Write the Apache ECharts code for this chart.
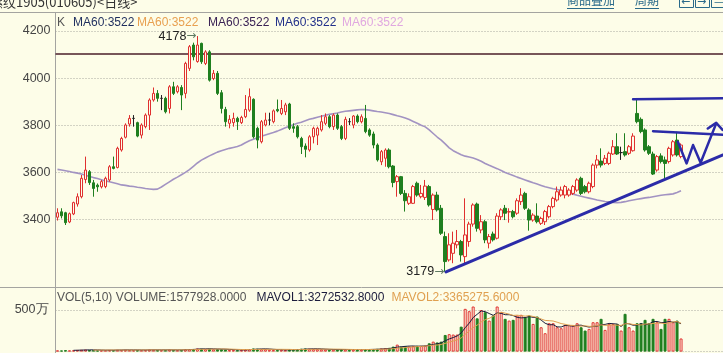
<!DOCTYPE html>
<html><head><meta charset="utf-8">
<script src="https://cdn.jsdelivr.net/npm/echarts@6/dist/echarts.min.js"></script>
<style>html,body{margin:0;padding:0;background:#fdfde8;overflow:hidden}#c{width:723px;height:353px}</style>
</head><body><div id="c"></div>
<script>
// ---------- data ----------
const SLOTS = 167; // candle slots across the plot (157 used, rest empty space on the right)
const days = Array.from({length: SLOTS}, (_, i) => 'D' + (i + 1));

// [open, close, low, high]
const candles = [
[3410,3429,3396,3448],[3433,3416,3405,3448],[3429,3387,3377,3433],[3390,3425,3385,3430],[3424,3472,3419,3476],
[3466,3497,3455,3511],[3497,3575,3490,3589],[3570,3610,3554,3667],[3603,3557,3547,3610],[3556,3532,3497,3568],
[3546,3539,3518,3553],[3539,3561,3532,3568],[3540,3575,3533,3582],[3568,3624,3561,3631],[3624,3617,3613,3667],
[3621,3702,3617,3709],[3695,3744,3688,3751],[3749,3801,3744,3808],[3805,3829,3794,3843],[3829,3829,3794,3843],
[3811,3754,3749,3815],[3758,3801,3744,3808],[3794,3843,3787,3850],[3843,3907,3780,3914],[3907,3935,3900,3960],
[3935,3914,3900,3949],[3914,3914,3864,3928],[3914,3857,3850,3921],[3871,3963,3850,3970],[3963,3935,3928,3984],
[3942,3963,3935,3970],[3960,3928,3864,3970],[3935,4062,3914,4069],[4041,4133,4030,4140],[4140,4090,4075,4150],
[4070,4140,4065,4178],[4147,4069,4060,4150],[4062,4111,4055,4118],[4111,3991,3985,4118],[3998,4020,3991,4034],
[4020,3935,3928,4030],[3938,3871,3850,3949],[3867,3815,3794,3878],[3808,3825,3787,3843],[3811,3829,3794,3853],
[3829,3815,3780,3836],[3811,3833,3805,3840],[3836,3867,3830,3928],[3864,3921,3857,3956],[3910,3751,3744,3914],
[3787,3737,3702,3794],[3730,3815,3723,3822],[3801,3822,3795,3853],[3822,3822,3800,3853],[3815,3861,3808,3867],
[3867,3861,3855,3909],[3850,3871,3843,3907],[3857,3886,3843,3895],[3890,3787,3780,3895],[3794,3787,3768,3808],
[3794,3751,3744,3801],[3744,3709,3678,3751],[3712,3698,3664,3723],[3695,3751,3688,3758],[3751,3787,3723,3794],
[3758,3787,3716,3794],[3780,3815,3773,3843],[3808,3836,3801,3850],[3836,3794,3787,3843],[3794,3843,3780,3850],
[3843,3787,3780,3850],[3794,3744,3737,3801],[3744,3825,3737,3836],[3815,3815,3801,3830],[3801,3839,3787,3843],
[3839,3815,3808,3846],[3815,3836,3808,3846],[3829,3773,3766,3886],[3780,3758,3751,3787],[3763,3716,3702,3773],
[3716,3653,3646,3723],[3645,3688,3631,3695],[3660,3695,3624,3702],[3695,3624,3617,3702],[3627,3557,3537,3631],
[3561,3582,3497,3589],[3582,3511,3504,3585],[3511,3480,3434,3525],[3469,3497,3462,3511],[3469,3540,3466,3547],
[3554,3504,3497,3561],[3497,3511,3490,3547],[3494,3542,3483,3568],[3540,3462,3455,3547],[3443,3504,3398,3511],
[3504,3441,3434,3518],[3448,3342,3335,3462],[3328,3222,3179,3349],[3229,3293,3222,3342],[3257,3300,3215,3349],
[3293,3307,3278,3356],[3307,3250,3222,3314],[3243,3335,3208,3490],[3307,3381,3285,3391],[3381,3462,3370,3469],
[3466,3363,3349,3472],[3356,3391,3342,3419],[3391,3314,3300,3398],[3300,3328,3278,3339],[3339,3314,3307,3349],
[3321,3415,3316,3427],[3412,3441,3398,3448],[3448,3427,3398,3462],[3432,3434,3387,3448],[3434,3412,3405,3441],
[3427,3480,3420,3490],[3476,3504,3462,3533],[3511,3448,3441,3518],[3441,3398,3353,3448],[3398,3419,3391,3427],
[3415,3391,3384,3469],[3384,3405,3377,3412],[3391,3434,3377,3441],[3412,3455,3405,3462],[3455,3490,3448,3497],
[3483,3518,3476,3540],[3504,3525,3497,3540],[3504,3540,3490,3547],[3504,3525,3497,3533],[3511,3540,3504,3547],
[3525,3568,3518,3575],[3575,3511,3504,3582],[3540,3518,3511,3547],[3518,3554,3511,3561],[3540,3631,3533,3638],
[3631,3653,3617,3674],[3648,3631,3621,3702],[3638,3660,3631,3674],[3638,3681,3631,3688],[3678,3709,3674,3737],
[3709,3678,3674,3766],[3684,3684,3653,3709],[3688,3674,3667,3766],[3681,3709,3674,3716],[3692,3754,3688,3766],
[3850,3815,3808,3911],[3825,3773,3766,3833],[3780,3695,3688,3787],[3709,3681,3674,3716],[3678,3593,3589,3688],
[3610,3667,3603,3674],[3670,3646,3638,3681],[3653,3638,3575,3667],[3646,3702,3638,3709],[3674,3730,3667,3737],
[3737,3674,3667,3772],[3667,3716,3660,3723]
];

const ma60 = [
3613,3610,3607,3604,3600,3597,3593,3588,3583,3578,3574,3569,3564,3560,3556,3552,3547,3545,3542,3540,
3537,3535,3532,3530,3528,3529,3538,3549,3560,3571,3580,3590,3600,3612,3626,3640,3652,3661,3670,3678,
3686,3692,3697,3702,3706,3710,3716,3726,3734,3741,3747,3753,3759,3764,3769,3775,3782,3789,3796,3802,
3808,3813,3819,3825,3829,3834,3838,3842,3846,3849,3852,3856,3859,3861,3863,3865,3867,3866,3864,3861,
3858,3856,3853,3850,3845,3840,3836,3831,3824,3816,3808,3800,3793,3780,3765,3750,3737,3721,3704,3692,
3683,3675,3669,3665,3661,3655,3647,3638,3630,3623,3616,3608,3600,3593,3587,3580,3574,3568,3562,3556,
3551,3545,3539,3535,3531,3528,3523,3518,3513,3508,3503,3499,3495,3491,3487,3483,3480,3477,3475,3473,
3472,3473,3476,3480,3483,3486,3489,3492,3494,3497,3500,3503,3505,3507,3509,3515,3522
];

// volume in 万 (10k lots)
const volumes = [
15,14,18,15,16,20,22,25,20,18, 15,16,17,20,18,22,20,22,20,18,
20,18,20,25,22,20,18,20,25,20, 18,20,28,30,32,38,35,30,35,28,
30,28,25,20,20,18,20,25,30,38, 35,32,30,22,20,20,22,20,25,22,
28,35,38,35,32,30,28,25,22,24, 25,28,26,22,24,26,24,25,28,30,
33,38,42,45,60,84,60,66,62,66, 70,68,72,100,120,110,120,200,210,205,
205,300,514,486,542,400,500,474,373,434, 542,474,394,373,382,434,442,414,434,333,
422,293,221,341,341,293,281,321,321,313, 341,293,253,273,353,353,394,261,333,333,
333,253,454,293,253,341,341,382,341,394, 353,273,394,394,353,373,157.8
];

// annotation drawings, in [slot index, price]
const trendLine = [[97.2,3178],[166.5,3674]];
const topLine   = [[144,3910],[166.5,3914]];
const midLine   = [[149,3775],[166.5,3760]];
const zigzag    = [[155.2,3730],[157.4,3638],[159,3716],[160.9,3641],[164.8,3808]];
const arrowHead = [[162.7,3786],[164.8,3810],[166.4,3780]];
const hLine = 4105;
const peak = {idx:35, price:4178};
const trough = {idx:97, price:3179};

const priceTicks = [3400, 4200, 200]; // first, last, step
const volTick = 500;

// ---------- layout ----------
const BG = '#fdfde8';
const RED = '#e0302f', GREEN = '#1f7f1f', BLUE = '#2b2ba8';
const FONT = '"Liberation Sans", Arial, sans-serif';
const priceMin = 3110, priceMax = 4280, mainTop = 12, mainBottom = 288;
const k = (mainBottom - mainTop) / (priceMax - priceMin);
const lblTop = mainTop + (priceMax - priceTicks[1]) * k;
const lblH = (priceTicks[1] - priceTicks[0]) * k;
const volTop = 310, volBase = 351.6;

function ma(arr, n) {
  return arr.map((_, i) => {
    if (i < n - 1) return null;
    let s = 0; for (let j = i - n + 1; j <= i; j++) s += arr[j];
    return +(s / n).toFixed(2);
  });
}
const isUp = (c, i) => c[1] > c[0] || (c[1] === c[0] && (i === 0 || c[1] >= candles[i-1][1]));
const volData = volumes.map((v, i) => {
  const up = isUp(candles[i], i);
  return {value: v, itemStyle: up ? {color: BG, borderColor: RED, borderWidth: 1} : {color: GREEN, borderColor: GREEN, borderWidth: 1}};
});

function annot(name, data, w) {
  return {name, type:'line', xAxisIndex:1, yAxisIndex:0, data, symbol:'none', silent:true, z:10,
    lineStyle:{color:BLUE, width:w, cap:'round', join:'round'}};
}

const chart = echarts.init(document.getElementById('c'), null, {renderer:'canvas'});
const legendY = 22.5, volLegendY = 297.5;
function txt(x, y, text, fill, extra) {
  return Object.assign({type:'text', x, y, silent:true, style:{text, fill, font:'12px ' + FONT, textVerticalAlign:'middle'}}, extra || {});
}
chart.setOption({
  backgroundColor: BG,
  animation: false,
  textStyle: {fontFamily: FONT},
  grid: [
    {left:55.5, width:668, top:mainTop, height:mainBottom - mainTop},
    {left:55.5, width:668, top:lblTop, height:lblH},
    {left:55.5, width:668, top:volTop, height:volBase - volTop}
  ],
  xAxis: [
    {type:'category', gridIndex:0, data:days, show:false},
    {type:'value', gridIndex:0, min:-0.5, max:SLOTS - 0.5, show:false},
    {type:'value', gridIndex:1, min:0, max:1, show:false},
    {type:'category', gridIndex:2, data:days, show:false}
  ],
  yAxis: [
    {type:'value', gridIndex:0, min:priceMin, max:priceMax, show:false},
    {type:'value', gridIndex:1, min:priceTicks[0], max:priceTicks[1], interval:priceTicks[2],
     axisLine:{show:false}, axisTick:{show:false},
     axisLabel:{color:'#454545', fontSize:12.5, margin:5, fontFamily:FONT, formatter:v => String(v)},
     splitLine:{lineStyle:{type:[1,2], color:'#a9a9a0', width:1}}},
    {type:'value', gridIndex:2, min:0, max:volTick, interval:volTick,
     axisLine:{show:false}, axisTick:{show:false},
     axisLabel:{color:'#454545', fontSize:12.5, margin:7, fontFamily:FONT, formatter:v => v === volTick ? volTick + '万' : ''},
     splitLine:{lineStyle:{type:[1,2], color:'#a9a9a0', width:1}}}
  ],
  series: [
    {type:'candlestick', xAxisIndex:0, yAxisIndex:0, data:candles, barWidth:3, z:5,
     itemStyle:{color:BG, color0:GREEN, borderColor:RED, borderColor0:GREEN, borderColorDoji:'#222', borderWidth:1},
     markLine:{silent:true, symbol:['none','none'], label:{show:false}, z:3,
       lineStyle:{color:'#4a1e2a', width:1.5, type:'solid'}, data:[{yAxis:hLine}]},
     markPoint:{symbol:'circle', symbolSize:0, silent:true,
       label:{show:true, position:'left', distance:1, color:'#222', fontSize:12, fontFamily:FONT,
         rich:{n:{color:'#222', fontSize:12.5, fontFamily:FONT}, a:{color:'#5f7a62', fontSize:12, fontFamily:'"DejaVu Sans", sans-serif'}}},
       data:[
         {coord:[peak.idx, peak.price], label:{formatter:'{n|' + peak.price + '}{a|→}'}},
         {coord:[trough.idx, trough.price], label:{formatter:'{n|' + trough.price + '}{a|→}'}}
       ]}
    },
    {name:'MA60', type:'line', xAxisIndex:0, yAxisIndex:0, data:ma60, symbol:'none', silent:true, z:4,
     lineStyle:{color:'#a293c2', width:1.6}},
    annot('trend', trendLine, 3),
    annot('top', topLine, 2.5),
    annot('mid', midLine, 2.5),
    annot('zig', zigzag, 2.5),
    annot('arrow', arrowHead, 2.5),
    {type:'bar', xAxisIndex:3, yAxisIndex:2, data:volData, barWidth:3, clip:false, silent:true},
    {type:'line', xAxisIndex:3, yAxisIndex:2, data:ma(volumes,5), symbol:'none', clip:false, silent:true,
     lineStyle:{color:'#1c1c3c', width:1}},
    {type:'line', xAxisIndex:3, yAxisIndex:2, data:ma(volumes,10), symbol:'none', clip:false, silent:true,
     lineStyle:{color:'#e0a050', width:1}}
  ],
  graphic: [
    {type:'line', silent:true, shape:{x1:0,y1:12.5,x2:723,y2:12.5}, style:{stroke:'#a4a4a0', lineWidth:1}},
    {type:'line', silent:true, shape:{x1:55.5,y1:12,x2:55.5,y2:353}, style:{stroke:'#a4a4a0', lineWidth:1}},
    {type:'line', silent:true, shape:{x1:0,y1:287.5,x2:723,y2:287.5}, style:{stroke:'#a4a4a0', lineWidth:1}},
    {type:'text', x:-10, y:-4, silent:true, style:{text:'螺纹1905(010605)<日线>', fill:'#333', font:'13px "Noto Sans CJK SC"'}},
    {type:'text', x:567, y:-6, silent:true, style:{text:'商品叠加', fill:'#2a6a8a', font:'12px "Noto Sans CJK SC"'}},
    {type:'line', silent:true, shape:{x1:567,y1:8.5,x2:614,y2:8.5}, style:{stroke:'#2a6a8a', lineWidth:1}},
    {type:'text', x:635, y:-6, silent:true, style:{text:'周期', fill:'#2a6a8a', font:'12px "Noto Sans CJK SC"'}},
    {type:'line', silent:true, shape:{x1:635,y1:8.5,x2:659,y2:8.5}, style:{stroke:'#2a6a8a', lineWidth:1}},
    {type:'rect', silent:true, shape:{x:679.5,y:-3.5,width:14,height:11}, style:{fill:'none', stroke:'#2a6a8a', lineWidth:1}},
    {type:'rect', silent:true, shape:{x:695.5,y:-3.5,width:14,height:11}, style:{fill:'none', stroke:'#2a6a8a', lineWidth:1}},
    {type:'rect', silent:true, shape:{x:711.5,y:-3.5,width:14,height:11}, style:{fill:'none', stroke:'#2a6a8a', lineWidth:1}},
    {type:'text', x:681, y:2, silent:true, style:{text:'←', fill:'#2a6a8a', font:'11px "DejaVu Sans"', textVerticalAlign:'middle'}},
    {type:'text', x:697, y:2, silent:true, style:{text:'→', fill:'#2a6a8a', font:'11px "DejaVu Sans"', textVerticalAlign:'middle'}},
    {type:'text', x:714, y:2, silent:true, style:{text:'—', fill:'#2a6a8a', font:'11px "DejaVu Sans"', textVerticalAlign:'middle'}},
    txt(57, legendY, 'K', '#555'),
    txt(73, legendY, 'MA60:3522', '#1e2e5e'),
    txt(137, legendY, 'MA60:3522', '#e8a050'),
    txt(208, legendY, 'MA60:3522', '#3a2255'),
    txt(275, legendY, 'MA60:3522', '#22308a'),
    txt(342, legendY, 'MA60:3522', '#e0a8e0'),
    txt(57, volLegendY, 'VOL(5,10) VOLUME:1577928.0000', '#555'),
    txt(256.5, volLegendY, 'MAVOL1:3272532.8000', '#1c1c3c'),
    txt(391.5, volLegendY, 'MAVOL2:3365275.6000', '#e0a050')
  ]
});
</script></body></html>
